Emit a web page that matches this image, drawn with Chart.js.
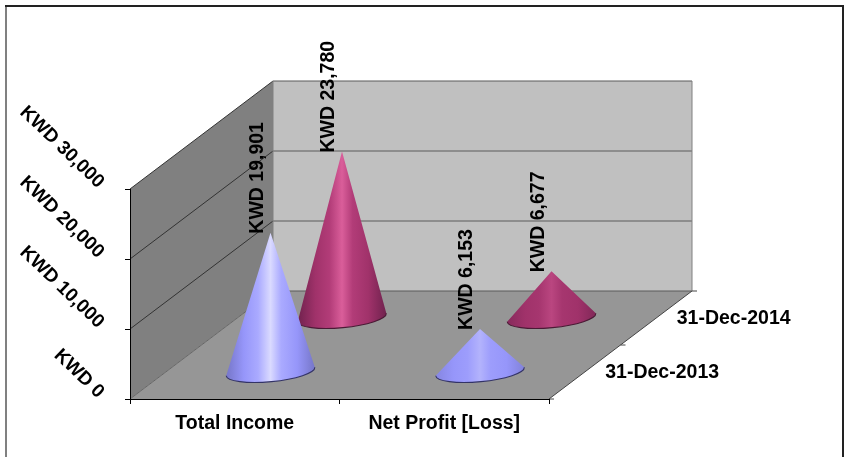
<!DOCTYPE html>
<html>
<head>
<meta charset="utf-8">
<style>html,body{margin:0;padding:0;background:#fff}#w{position:relative;width:845px;height:457px}</style>
<script src="https://cdn.jsdelivr.net/npm/chart.js@4/dist/chart.umd.js"></script>
</head>
<body>
<div id="w"><canvas id="c" width="845" height="457"></canvas></div>
<script>
const categories = ['Total Income', 'Net Profit [Loss]'];
const seriesNames = ['31-Dec-2013', '31-Dec-2014'];
const values2013 = [19901, 6153];
const values2014 = [23780, 6677];
const yTicks = [0, 10000, 20000, 30000];

// projection of the depth axis on the page
const DEPTH_X = 143, DEPTH_Y = 108;
const depthOf = [0.25, 0.75];
const FONT = 'bold 19.5px "Liberation Sans", Arial, sans-serif';

const fmt = v => 'KWD ' + Number(v).toLocaleString('en-US');

function mix(a, b, t) {
  return 'rgb(' + a.map((c, i) => Math.round(c + (b[i] - c) * t)).join(',') + ')';
}

class ConeController extends Chart.BarController {
  static id = 'cone';
  draw() {
    const ctx = this.chart.ctx;
    const meta = this.getMeta();
    const ds = this.getDataset();
    const d = ds.depth;
    meta.data.forEach(bar => {
      const cx = bar.x + d * DEPTH_X;
      const by = bar.base - d * DEPTH_Y;
      const top = bar.y - d * DEPTH_Y;
      const rx = bar.width / 2;
      const ry = 10.2;
      const tilt = -0.095;
      const lx = cx - rx * Math.cos(tilt), ly = by - rx * Math.sin(tilt);
      const rrx = cx + rx * Math.cos(tilt), rry = by + rx * Math.sin(tilt);
      const t = Math.min(1, (by - top) / 130);
      const g = ctx.createLinearGradient(lx, 0, rrx, 0);
      const s = ds.shade;
      const base = s.mid;
      g.addColorStop(0, mix(base, s.edge, 0.25 + 0.75 * t));
      g.addColorStop(0.2, mix(base, s.mid, t));
      g.addColorStop(0.36, mix(base, s.mid2, t));
      g.addColorStop(0.5, mix(base, s.light, 0.15 + 0.85 * t));
      g.addColorStop(0.62, mix(base, s.mid2, t));
      g.addColorStop(0.8, mix(base, s.mid, t));
      g.addColorStop(1, mix(base, s.edge, 0.45 + 0.55 * t));
      ctx.save();
      ctx.beginPath();
      ctx.moveTo(cx, top);
      ctx.lineTo(rrx, rry);
      ctx.ellipse(cx, by, rx, ry, tilt, 0, Math.PI);
      ctx.closePath();
      ctx.fillStyle = g;
      ctx.fill();
      ctx.beginPath();
      ctx.ellipse(cx, by, rx, ry, tilt, 0, Math.PI);
      ctx.strokeStyle = ds.rim;
      ctx.lineWidth = 1.1;
      ctx.stroke();
      ctx.restore();
    });
  }
}
Chart.register(ConeController);

const walls = {
  id: 'walls',
  beforeDraw(chart) {
    const { ctx, scales: { x, y } } = chart;
    const L = x.left, R = x.right, B = y.bottom, T = y.top;
    const dx = DEPTH_X, dy = DEPTH_Y;
    ctx.save();
    // frame
    ctx.strokeStyle = '#808080';
    ctx.lineWidth = 2;
    ctx.beginPath(); ctx.moveTo(6, 457); ctx.lineTo(6, 6); ctx.stroke();
    ctx.strokeStyle = '#222';
    ctx.beginPath(); ctx.moveTo(5, 6); ctx.lineTo(843, 6); ctx.lineTo(843, 457); ctx.stroke();
    // left wall
    ctx.fillStyle = '#808080';
    ctx.beginPath();
    ctx.moveTo(L, B); ctx.lineTo(L, T); ctx.lineTo(L + dx, T - dy); ctx.lineTo(L + dx, B - dy);
    ctx.closePath(); ctx.fill();
    // back wall
    ctx.fillStyle = '#c0c0c0';
    ctx.fillRect(L + dx, T - dy, R - L, B - T);
    // floor
    ctx.fillStyle = '#969696';
    ctx.beginPath();
    ctx.moveTo(L, B); ctx.lineTo(R, B); ctx.lineTo(R + dx, B - dy); ctx.lineTo(L + dx, B - dy);
    ctx.closePath(); ctx.fill();
    // gridlines on both walls
    ctx.lineWidth = 1;
    y.ticks.forEach(tk => {
      const py = y.getPixelForValue(tk.value);
      ctx.strokeStyle = tk.value === 0 ? '#666' : '#333';
      ctx.beginPath(); ctx.moveTo(L, py); ctx.lineTo(L + dx, py - dy); ctx.stroke();
      ctx.strokeStyle = '#5a5a5a';
      ctx.lineWidth = 1.2;
      ctx.beginPath(); ctx.moveTo(L + dx, py - dy); ctx.lineTo(R + dx, py - dy); ctx.stroke();
      ctx.lineWidth = 1;
    });
    // corners
    ctx.strokeStyle = '#808080';
    ctx.beginPath(); ctx.moveTo(L + dx, T - dy); ctx.lineTo(L + dx, B - dy); ctx.stroke();
    ctx.beginPath(); ctx.moveTo(R + dx, T - dy); ctx.lineTo(R + dx, B - dy); ctx.stroke();
    // right floor edge and its ticks
    ctx.strokeStyle = '#444';
    ctx.beginPath(); ctx.moveTo(R, B); ctx.lineTo(R + dx, B - dy); ctx.stroke();
    [0, 0.5, 1].forEach(f => {
      ctx.beginPath();
      ctx.moveTo(R + f * dx, B - f * dy);
      ctx.lineTo(R + f * dx + 5, B - f * dy);
      ctx.stroke();
    });
    ctx.restore();
  },
  afterDatasetsDraw(chart) {
    const { ctx, scales: { x, y } } = chart;
    ctx.save();
    ctx.font = FONT;
    ctx.fillStyle = '#000';
    // depth axis labels
    ctx.textAlign = 'left';
    ctx.textBaseline = 'middle';
    seriesNames.forEach((n, i) => {
      ctx.fillText(n, x.right + depthOf[i] * DEPTH_X + 20.5, y.bottom - depthOf[i] * DEPTH_Y + 1);
    });
    // value labels, vertical, starting at the apex
    chart.data.datasets.forEach((ds, i) => {
      chart.getDatasetMeta(i).data.forEach((bar, j) => {
        ctx.save();
        ctx.translate(bar.x + ds.depth * DEPTH_X - 13, bar.y - ds.depth * DEPTH_Y + 1);
        ctx.rotate(-Math.PI / 2);
        ctx.textAlign = 'left';
        ctx.textBaseline = 'middle';
        ctx.fillText(fmt(ds.data[j]), 0, 0);
        ctx.restore();
      });
    });
    ctx.restore();
  }
};

new Chart(document.getElementById('c'), {
  type: 'cone',
  data: {
    labels: categories,
    datasets: [
      { label: seriesNames[0], data: values2013, depth: depthOf[0], clip: false,
        backgroundColor: '#9999ff', rim: '#333366',
        shade: { edge: [118, 118, 200], mid: [150, 150, 250], mid2: [170, 170, 255], light: [218, 218, 255] } },
      { label: seriesNames[1], data: values2014, depth: depthOf[1], clip: false,
        backgroundColor: '#993366', rim: '#4a1a35',
        shade: { edge: [112, 34, 78], mid: [160, 50, 106], mid2: [178, 60, 120], light: [218, 94, 154] } }
    ]
  },
  plugins: [walls],
  options: {
    responsive: false,
    animation: false,
    devicePixelRatio: 1,
    layout: { padding: { left: 10, right: 296, top: 189, bottom: 10 } },
    plugins: { legend: { display: false }, title: { display: false }, tooltip: { enabled: false } },
    datasets: { cone: { grouped: false, barPercentage: 0.425, categoryPercentage: 1 } },
    scales: {
      x: {
        afterFit(s) { s.height = 48; },
        grid: { drawOnChartArea: false, offset: true, tickLength: 5, color: '#000' },
        border: { color: '#000', width: 1 },
        ticks: { color: '#000', font: { family: '"Liberation Sans", Arial, sans-serif', size: 19.5, weight: 'bold' },
                 maxRotation: 0, autoSkip: false, padding: 8 }
      },
      y: {
        min: 0, max: 30000,
        afterFit(s) { s.width = 120; },
        afterBuildTicks(s) { s.ticks = yTicks.map(v => ({ value: v })); },
        grid: { drawOnChartArea: false, tickLength: 5, color: '#000' },
        border: { color: '#000', width: 1 },
        ticks: { color: '#000', font: { family: '"Liberation Sans", Arial, sans-serif', size: 19, weight: 'bold' },
                 minRotation: -44, maxRotation: -44, padding: 24, labelOffset: -4,
                 callback: v => fmt(v) }
      }
    }
  }
});
</script>
</body>
</html>
